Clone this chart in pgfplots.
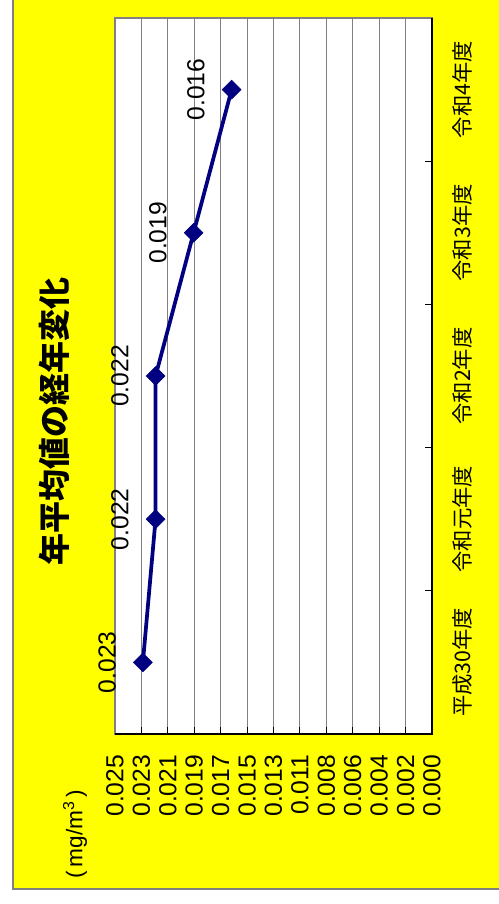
\documentclass[border=0pt]{standalone}
\usepackage{fontspec}
\setmainfont{Liberation Sans}
\newfontfamily\cjk{Noto Sans CJK JP}
\usepackage{pgfplots}
\pgfplotsset{compat=1.18}
\definecolor{bgyellow}{RGB}{255,255,0}
\definecolor{navyline}{RGB}{0,0,128}
\begin{document}
\begin{tikzpicture}
\useasboundingbox (0,0) rectangle (374.25pt,678pt);
\begin{scope}
\clip (0,0) rectangle (374.25pt,678pt);
\fill[white] (0,0) rectangle (374.25pt,678pt);
\filldraw[fill=bgyellow, draw=gray, line width=0.8pt] (9.75pt,11.25pt) rectangle (390pt,690pt);
\end{scope}
\begin{axis}[
  at={(86.25pt,127.5pt)}, anchor=south west,
  scale only axis, width=237.75pt, height=537pt,
  xmin=0, xmax=0.025, x dir=reverse,
  ymin=-0.5, ymax=4.5,
  scaled x ticks=false,
  axis background/.style={fill=white},
  axis line style={draw=gray, line width=0.8pt},
  xtick={0,0.00208333,0.00416667,0.00625,0.00833333,0.01041667,0.0125,0.01458333,0.01666667,0.01875,0.02083333,0.02291667,0.025},
  xticklabels={0.000,0.002,0.004,0.006,0.008,0.011,0.013,0.015,0.017,0.019,0.021,0.023,0.025},
  xtick pos=left,
  xmajorgrids, major grid style={draw=gray, line width=0.8pt},
  tick align=inside, major tick length=5pt,
  tick style={draw=black, line width=0.8pt},
  xticklabel style={rotate=90, anchor=east, inner xsep=15.5pt, inner ysep=0pt, font=\fontsize{18.5}{22}\selectfont},
  ytick={0.5,1.5,2.5,3.5}, yticklabels={},
  ytick pos=right,
  extra y ticks={0,1,2,3,4},
  extra y tick labels={平成30年度,令和元年度,令和2年度,令和3年度,令和4年度},
  extra y tick style={major tick length=0pt, yticklabel pos=right,
    yticklabel style={rotate=90, anchor=north, inner ysep=15pt, inner xsep=0pt, font=\cjk\fontsize{16}{20}\selectfont}},
  point meta=explicit symbolic,
  nodes near coords,
  every node near coord/.append style={xshift=-20pt, rotate=90, anchor=south, inner sep=0pt, text=black, font=\fontsize{18.5}{22}\selectfont},
  clip=false,
]
\draw[black, line width=0.8pt] (rel axis cs:0,0) -- (rel axis cs:1,0) -- (rel axis cs:1,1);
\addplot[navyline, line width=2.8pt, mark=square*, mark size=5pt, mark options={rotate=45, solid, line width=0.4pt, fill=navyline, draw=navyline}]
  coordinates {(0.0228,0) [0.023] (0.0218,1) [0.022] (0.0218,2) [0.022] (0.0188,3) [0.019] (0.0158,4) [0.016]};
\end{axis}
\node[rotate=90, font=\cjk\bfseries\fontsize{24}{28}\selectfont] at (40.5pt,361.5pt) {年平均値の経年変化};
\node[rotate=90, font=\fontsize{17}{20}\selectfont] at (56.25pt,52.5pt) {(\,mg/m\textsuperscript{3}\,)};
\end{tikzpicture}
\end{document}
